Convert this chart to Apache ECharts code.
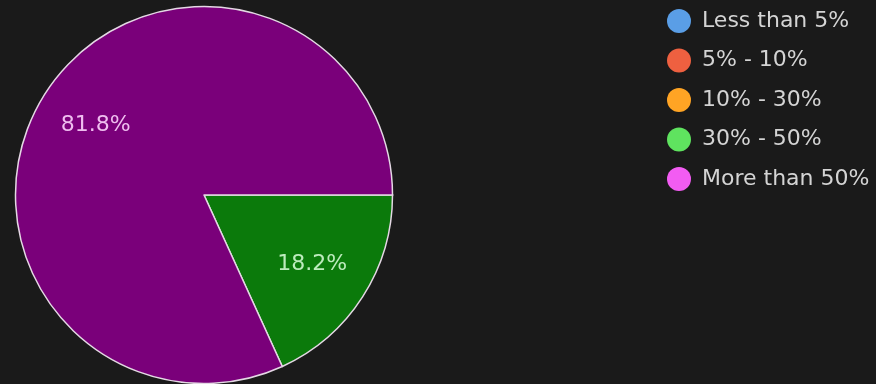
<!DOCTYPE html>
<html>
<head>
<meta charset="utf-8">
<script src="https://cdn.jsdelivr.net/npm/echarts@6/dist/echarts.min.js"></script>
<style>
html,body{margin:0;padding:0;background:#1a1a1a;}
#chart{width:876px;height:384px;}
</style>
</head>
<body>
<div id="chart"></div>
<script>
const categories = ['Less than 5%', '5% - 10%', '10% - 30%', '30% - 50%', 'More than 50%'];
const counts = [0, 0, 0, 2, 9];
const sliceColors = ['#2a4a80', '#8a2a10', '#a05a00', '#0b7a0b', '#7a007a'];
const legendColors = ['#5a9ee6', '#ee6040', '#ffa424', '#5fe35f', '#f25cf2'];
const labelColors = ['#c8dcf5', '#f5c8bc', '#fde0b8', '#bdebbd', '#efbdef'];

const chart = echarts.init(document.getElementById('chart'));
const pieData = categories.map((c, i) => ({
  name: c, value: counts[i],
  itemStyle: { color: sliceColors[i] }
}));
const labelData = categories.map((c, i) => ({
  name: c, value: counts[i],
  label: { color: labelColors[i] }
}));
chart.setOption({
  backgroundColor: '#1a1a1a',
  animation: false,
  legend: {
    orient: 'vertical',
    left: 662,
    top: 4,
    icon: 'circle',
    itemWidth: 24,
    itemHeight: 24,
    itemGap: 15.5,
    itemStyle: { borderWidth: 0 },
    textStyle: { color: '#d4d4d4', fontSize: 22, fontFamily: 'DejaVu Sans', padding: [0, 0, 0, 6] },
    data: categories.map((c, i) => ({ name: c, itemStyle: { color: legendColors[i], borderWidth: 0 } }))
  },
  series: [
    {
      type: 'pie',
      center: [204, 195],
      radius: [0, 188.5],
      startAngle: 0,
      clockwise: true,
      silent: true,
      label: { show: false },
      labelLine: { show: false },
      itemStyle: { borderColor: '#e4d8e4', borderWidth: 1.5 },
      data: pieData
    },
    {
      type: 'pie',
      center: [204, 195],
      radius: [63, 188.5],
      startAngle: 0,
      clockwise: true,
      silent: true,
      percentPrecision: 1,
      itemStyle: { color: 'rgba(0,0,0,0)', borderWidth: 0 },
      labelLine: { show: false },
      label: {
        show: true,
        position: 'inside',
        fontFamily: 'DejaVu Sans',
        fontSize: 22,
        padding: [5, 0, 0, 0],
        formatter: p => p.value > 0 ? p.percent.toFixed(1) + '%' : ''
      },
      data: labelData
    }
  ]
});
</script>
</body>
</html>
